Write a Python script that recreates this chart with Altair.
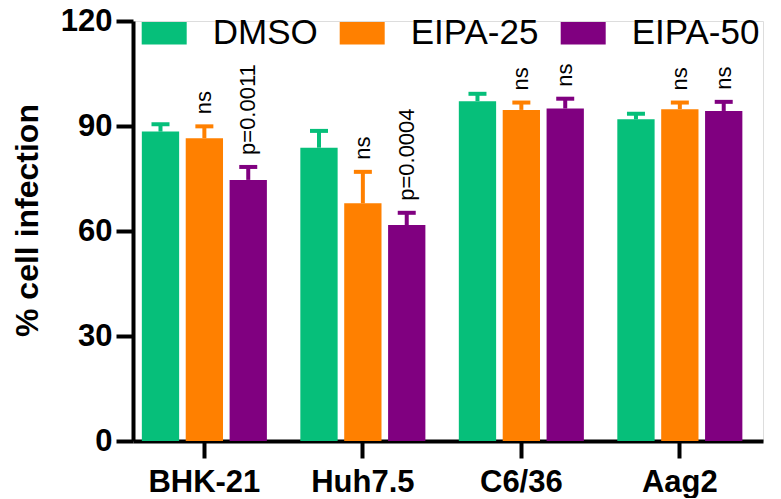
import altair as alt
import pandas as pd

cells = ["BHK-21", "Huh7.5", "C6/36", "Aag2"]
groups = ["DMSO", "EIPA-25", "EIPA-50"]
colors = ["#06BF7A", "#FF8000", "#800080"]

# mean values per cell line (DMSO, EIPA-25, EIPA-50)
means = {
    "BHK-21": [88.4, 86.5, 74.6],
    "Huh7.5": [83.8, 67.9, 61.7],
    "C6/36": [97.1, 94.6, 95.0],
    "Aag2": [91.9, 94.8, 94.3],
}
uppers = {
    "BHK-21": [90.5, 89.9, 78.3],
    "Huh7.5": [88.6, 76.9, 65.2],
    "C6/36": [99.2, 96.7, 97.8],
    "Aag2": [93.5, 96.7, 96.9],
}
labels = {
    "BHK-21": ["", "ns", "p=0.0011"],
    "Huh7.5": ["", "ns", "p=0.0004"],
    "C6/36": ["", "ns", "ns"],
    "Aag2": ["", "ns", "ns"],
}

rows = []
for c in cells:
    for i, g in enumerate(groups):
        rows.append({"cell": c, "group": g, "mean": means[c][i],
                     "upper": uppers[c][i], "label": labels[c][i]})
df = pd.DataFrame(rows)

FONT = "Liberation Sans, Arial, sans-serif"

x = alt.X("cell:N", sort=cells,
          scale=alt.Scale(paddingInner=0.211, paddingOuter=0.093, align=0.3),
          axis=alt.Axis(title=None, labelAngle=0, labelFontSize=31, labelFontWeight="bold",
                        labelFont=FONT, labelColor="black", labelPadding=9,
                        tickSize=17, tickWidth=4, tickColor="black",
                        domainWidth=4, domainColor="black"))
xo = alt.XOffset("group:N", sort=groups,
                 scale=alt.Scale(paddingInner=0.15, paddingOuter=0))
color = alt.Color("group:N", sort=groups,
                  scale=alt.Scale(domain=groups, range=colors),
                  legend=alt.Legend(title=None, orient="none", direction="horizontal",
                                    legendX=8.7, legendY=-10.5,
                                    symbolType="M-1,-0.5H1V0.5H-1Z", symbolSize=2025,
                                    symbolStrokeWidth=0, symbolOpacity=1,
                                    labelFontSize=35, labelFont=FONT, labelColor="black",
                                    labelOffset=26, columnPadding=22, padding=0))
y = alt.Y("mean:Q",
          scale=alt.Scale(domain=[0, 120], nice=False, zero=True),
          axis=alt.Axis(values=[0, 30, 60, 90, 120], title="% cell infection",
                        titleFontSize=32, titleFontWeight="bold", titleFont=FONT,
                        titleColor="black", titlePadding=16, titleY=199,
                        labelFontSize=31, labelFontWeight="bold", labelFont=FONT,
                        labelColor="black", labelPadding=4,
                        tickSize=17, tickWidth=4, tickColor="black",
                        domainWidth=4, domainColor="black", grid=False))

base = alt.Chart(df)

bars = base.mark_bar().encode(x=x, xOffset=xo, y=y, color=color)

stems = base.mark_rule(strokeWidth=4).encode(
    x=x, xOffset=xo, y=alt.Y("mean:Q"), y2="upper:Q",
    color=alt.Color("group:N", sort=groups, scale=alt.Scale(domain=groups, range=colors), legend=None))

caps = base.mark_tick(size=18, thickness=4, opacity=1).encode(
    x=x, xOffset=xo, y=alt.Y("upper:Q"),
    color=alt.Color("group:N", sort=groups, scale=alt.Scale(domain=groups, range=colors), legend=None))

texts = base.mark_text(angle=270, align="left", baseline="middle", dx=12,
                       fontSize=22, font=FONT, color="black").encode(
    x=x, xOffset=xo, y=alt.Y("upper:Q"), text="label:N")

chart = alt.layer(bars, stems, caps, texts).properties(
    width=630, height=420,
    autosize=alt.AutoSizeParams(type="none"),
    padding={"left": 125, "top": 13, "right": 8, "bottom": 57},
).configure_view(stroke=None).configure(background="white")

chart.save("out.html", embed_options={"renderer": "svg", "actions": False})
